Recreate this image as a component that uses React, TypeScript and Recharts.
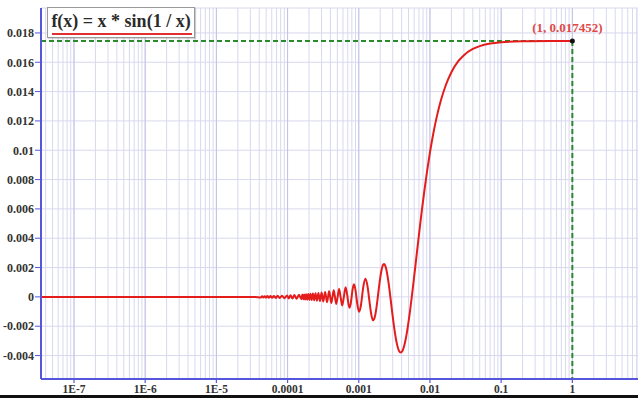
import React from 'react';
import {
  LineChart,
  Line,
  XAxis,
  YAxis,
  CartesianGrid,
  ReferenceLine,
  ReferenceDot,
  Label,
} from 'recharts';

// [x, f(x)] pairs, left to right
const flatSegment: [number, number][] = [
  [3.44e-8, 0],
  [1e-6, 0],
  [1e-5, 0],
  [3.5e-5, 0],
];

const rippleSegment: [number, number][] = [
  [4.22e-5, -0.0000422], [4.39e-5, 0.0000439], [4.57e-5, -0.0000457], [4.77e-5, 0.0000477],
  [4.98e-5, -0.0000498], [5.22e-5, 0.0000522], [5.47e-5, -0.0000547], [5.76e-5, 0.0000576],
  [6.07e-5, -0.0000607], [6.42e-5, 0.0000642], [6.82e-5, -0.0000682], [7.26e-5, 0.0000726],
  [7.77e-5, -0.0000777], [8.35e-5, 0.0000835], [9.03e-5, -0.0000903], [9.83e-5, 0.0000983],
  [1.038e-4, -0.0001038], [1.1e-4, 0.00011], [1.17e-4, -0.000117], [1.248e-4, 0.0001248],
  [1.339e-4, -0.0001339], [1.443e-4, 0.0001443], [1.565e-4, -0.0001565], [1.61e-4, 0.000161],
  [1.658e-4, -0.0001658], [1.709e-4, 0.0001709], [1.764e-4, -0.0001764], [1.821e-4, 0.0001821],
  [1.883e-4, -0.0001883], [1.949e-4, 0.0001949], [2.02e-4, -0.000202], [2.096e-4, 0.0002096],
  [2.179e-4, -0.0002179], [2.268e-4, 0.0002268], [2.364e-4, -0.0002364], [2.469e-4, 0.0002469],
  [2.584e-4, -0.0002584], [2.71e-4, 0.000271], [2.849e-4, -0.0002849], [3.003e-4, 0.0003003],
  [3.175e-4, -0.0003175],
];

const waveSegment: [number, number][] = [
  [3.367e-4, 0.000337], [3.472e-4, 0], [3.584e-4, -0.000358], [3.704e-4, 0],
  [3.831e-4, 0.000383], [3.968e-4, 0], [4.115e-4, -0.000412], [4.274e-4, 0],
  [4.444e-4, 0.000444], [4.63e-4, 0], [4.831e-4, -0.000483], [5.051e-4, 0],
  [5.291e-4, 0.000529], [5.556e-4, 0], [5.848e-4, -0.000585], [6.173e-4, 0],
  [6.536e-4, 0.000654], [6.944e-4, 0], [7.092e-4, -0.000355], [7.407e-4, -0.000741],
  [7.752e-4, -0.000388], [7.937e-4, 0], [8.13e-4, 0.000407], [8.547e-4, 0.000855],
  [9.009e-4, 0.00045], [9.259e-4, 0], [9.524e-4, -0.000476], [1.0101e-3, -0.00101],
  [1.0753e-3, -0.000538], [1.1111e-3, 0], [1.1494e-3, 0.000575], [1.2346e-3, 0.001235],
  [1.3333e-3, 0.000667], [1.3889e-3, 0], [0.001429, -0.000489], [0.001471, -0.000945],
  [0.001515, -0.001312], [0.001563, -0.001539], [0.001587, -0.001587], [0.001613, -0.001588],
  [0.001667, -0.001443], [0.001724, -0.001108], [0.001786, -0.000611], [0.001852, 0],
  [0.001923, 0.000658], [0.002, 0.001286], [0.002083, 0.001804], [0.002174, 0.002141],
  [0.002222, 0.002222], [0.002273, 0.002238], [0.002381, 0.002062], [0.0025, 0.001607],
  [0.002632, 0.0009], [0.002778, 0],
];

const riseSegment: [number, number][] = [
  [0.002857, -0.000496], [0.002941, -0.001006], [0.00303, -0.001515], [0.003125, -0.002009],
  [0.003226, -0.002471], [0.003333, -0.002887], [0.003448, -0.00324], [0.003571, -0.003517],
  [0.003704, -0.003704], [0.003846, -0.003788], [0.004, -0.003759], [0.004167, -0.003608],
  [0.004348, -0.003331], [0.004545, -0.002922], [0.004762, -0.002381], [0.005, -0.00171],
  [0.005263, -0.000914], [0.005556, 0], [0.005882, 0.001021], [0.00625, 0.002138],
  [0.006667, 0.003333], [0.007143, 0.004591], [0.007692, 0.005893], [0.008333, 0.007217],
  [0.00909, 0.008543], [0.01, 0.009848], [0.01111, 0.011111], [0.0125, 0.01231],
  [0.01429, 0.013424], [0.01667, 0.014434], [0.02, 0.015321], [0.025, 0.01607],
  [0.03, 0.016485], [0.04, 0.016905], [0.05, 0.017101], [0.07, 0.017273],
  [0.1, 0.017365], [0.2, 0.017431], [0.5, 0.01745], [1, 0.017452],
];

const markedPoint = { x: 1, y: 0.017452, label: '(1, 0.017452)' };

const decadeTicks = [1e-7, 1e-6, 1e-5, 1e-4, 1e-3, 1e-2, 1e-1, 1];
const decadeLabels = ['1E-7', '1E-6', '1E-5', '0.0001', '0.001', '0.01', '0.1', '1'];

const yTicks = [-0.004, -0.002, 0, 0.002, 0.004, 0.006, 0.008, 0.01, 0.012, 0.014, 0.016, 0.018];
const yLabels = ['-0.004', '-0.002', '0', '0.002', '0.004', '0.006', '0.008', '0.01', '0.012', '0.014', '0.016', '0.018'];

const xDomain: [number, number] = [3.44e-8, 8.36];
const yDomain: [number, number] = [-0.0056, 0.0197];

const data = [...flatSegment, ...rippleSegment, ...waveSegment, ...riseSegment].map(([x, y]) => ({ x, y }));

// minor log gridlines: 1..9 within each decade
const gridTicks: number[] = [];
[1e-8, ...decadeTicks].forEach((d) => {
  for (let m = 1; m <= 9; m++) {
    const v = d * m;
    if (v >= xDomain[0] && v <= xDomain[1]) gridTicks.push(v);
  }
});

const axisBlue = '#5656dc';
const serif = '"Liberation Serif", "DejaVu Serif", serif';

const DecadeTick = (props: any) => {
  const { x, y, payload } = props;
  const idx = decadeTicks.indexOf(payload.value);
  if (idx < 0) return <g />;
  return (
    <g>
      <line x1={x} x2={x} y1={y - 7} y2={y - 2} stroke={axisBlue} strokeWidth={1.2} />
      <text x={x} y={y} dy="0.71em" textAnchor="middle" fill="#333" fontSize={11.5} fontWeight="bold" fontFamily={serif}>
        {decadeLabels[idx]}
      </text>
    </g>
  );
};

const App = () => (
  <div style={{ position: 'absolute', left: 0, top: 0, width: 638, height: 398, background: '#fff', overflow: 'hidden' }}>
    <LineChart width={638} height={398} data={data} margin={{ top: 8, right: 0, bottom: 0, left: 0 }}>
      <CartesianGrid stroke="#d8d8f0" strokeWidth={1} />
      {decadeTicks.map((d) => (
        <ReferenceLine key={d} x={d} stroke="#c2c2e6" strokeWidth={1} />
      ))}
      <XAxis
        type="number"
        dataKey="x"
        scale="log"
        domain={xDomain}
        allowDataOverflow
        ticks={gridTicks}
        interval={0}
        tickLine={false}
        tickSize={4}
        tickMargin={2}
        height={19}
        tick={<DecadeTick />}
        tickFormatter={() => ''}
        axisLine={{ stroke: axisBlue, strokeWidth: 2 }}
      />
      <YAxis
        type="number"
        domain={yDomain}
        allowDataOverflow
        ticks={yTicks}
        interval={0}
        width={41}
        tickSize={6}
        tickMargin={1}
        tickFormatter={(v: number) => yLabels[yTicks.indexOf(v)] ?? String(v)}
        tick={{ fill: '#333', fontSize: 12, fontWeight: 'bold', fontFamily: serif }}
        tickLine={{ stroke: axisBlue }}
        axisLine={{ stroke: axisBlue, strokeWidth: 2 }}
      />
      <ReferenceLine
        segment={[{ x: xDomain[0], y: markedPoint.y }, { x: markedPoint.x, y: markedPoint.y }]}
        stroke="#2b8a2b"
        strokeWidth={2}
        strokeDasharray="5 3"
      />
      <ReferenceLine
        segment={[{ x: markedPoint.x, y: markedPoint.y }, { x: markedPoint.x, y: yDomain[0] }]}
        stroke="#2b8a2b"
        strokeWidth={2}
        strokeDasharray="5 3"
      />
      <Line
        type="monotone"
        dataKey="y"
        stroke="#e51c1c"
        strokeWidth={2}
        dot={false}
        isAnimationActive={false}
      />
      <ReferenceDot x={markedPoint.x} y={markedPoint.y} r={2.5} fill="#111" stroke="none">
        <Label
          value={markedPoint.label}
          position="top"
          offset={6}
          dx={-5}
          fill="#e04848"
          fontSize={13}
          fontWeight="bold"
          fontFamily={serif}
        />
      </ReferenceDot>
    </LineChart>
    <div
      style={{
        position: 'absolute',
        left: 47,
        top: 7,
        width: 146,
        height: 29,
        border: '1px solid #999',
        background: '#fff',
        boxShadow: '1px 1px 1px rgba(0,0,0,0.15)',
        fontFamily: serif,
        fontWeight: 'bold',
        fontSize: 18,
        color: '#2a2a2a',
        lineHeight: '26px',
        textAlign: 'center',
      }}
    >
      f(x) = x * sin(1 / x)
      <div style={{ position: 'absolute', left: 4, right: 2, top: 25, height: 2, background: '#e03030' }} />
    </div>
    <div style={{ position: 'absolute', left: 0, top: 395, width: 638, height: 3, background: '#111' }} />
  </div>
);

export default App;
